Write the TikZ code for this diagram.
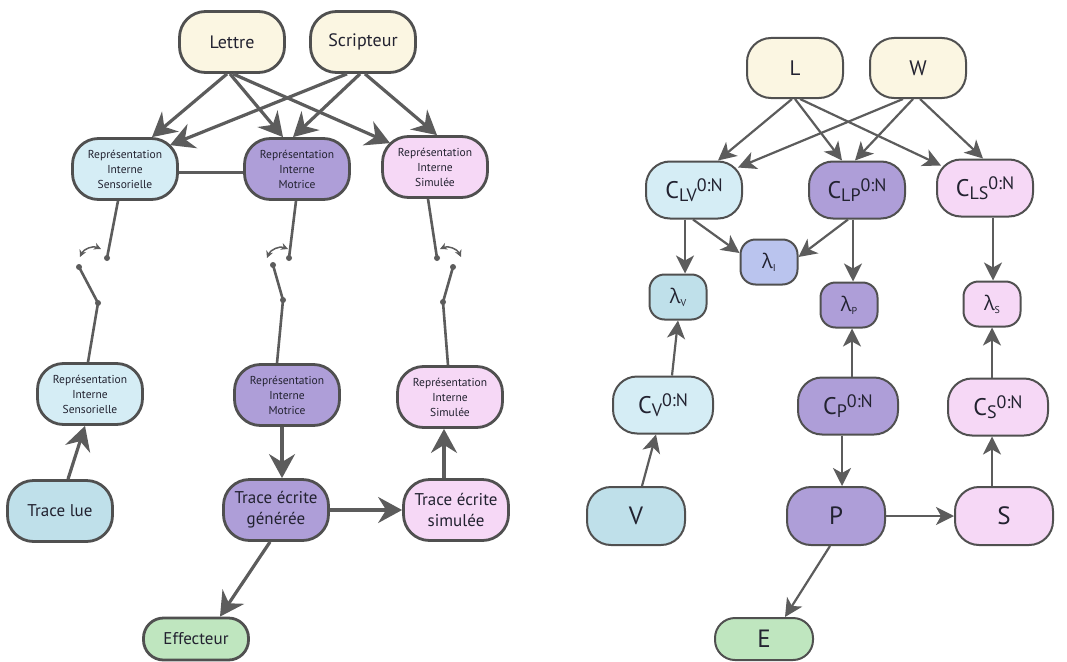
\documentclass[tikz,border=0pt]{standalone}
\usepackage{fontspec}
\setmainfont{PT Sans}
\newfontfamily\greekfont{Open Sans}
\usetikzlibrary{arrows.meta,calc}
\definecolor{yel}{HTML}{FBF6E2}
\definecolor{blu}{HTML}{D5EDF5}
\definecolor{blud}{HTML}{BFE0EA}
\definecolor{pur}{HTML}{AE9ED8}
\definecolor{pnk}{HTML}{F6D8F6}
\definecolor{grn}{HTML}{BFE6BF}
\definecolor{lav}{HTML}{BAC4EE}
\definecolor{bord}{HTML}{505050}
\definecolor{arr}{HTML}{5C5C5C}
\definecolor{txt}{HTML}{222230}
\newcommand{\cvar}[2]{C\raisebox{-0.12em}{\fontsize{18}{18}\selectfont #1}\raisebox{0.3em}{\fontsize{18}{18}\selectfont #2}}
\newcommand{\lamv}[1]{{\greekfont λ}\raisebox{-0.15em}{\fontsize{10}{10}\selectfont #1}}
\tikzset{
  box/.style={draw=bord, line width=2.8pt, rounded corners=26pt, align=center, inner sep=0pt, text=txt},
  lbox/.style={box, minimum width=105pt, minimum height=61pt},
  small/.style={font=\fontsize{11.5}{15}\selectfont},
  big/.style={font=\fontsize{18}{22}\selectfont},
  rbox/.style={draw=bord, line width=2pt, rounded corners=24pt, minimum width=96pt, minimum height=57pt, inner sep=0pt, text=txt, font=\fontsize{24}{26}\selectfont},
  lambox/.style={draw=bord, line width=2pt, rounded corners=15pt, minimum width=57pt, minimum height=45pt, inner sep=0pt, text=txt, font=\fontsize{20}{22}\selectfont},
  larr/.style={draw=arr, line width=3.2pt, -{Stealth[length=24pt,width=26pt,inset=8pt]}},
  lline/.style={draw=arr, line width=3pt},
  sw/.style={draw=arr, line width=2.6pt},
  swarc/.style={draw=arr, line width=1.5pt, {Stealth[length=7pt,width=7pt]}-{Stealth[length=7pt,width=7pt]}},
  rarr/.style={draw=arr, line width=2.2pt, -{Stealth[length=18pt,width=18pt,inset=5pt]}},
  dotm/.style={circle, fill=arr, inner sep=0pt, minimum size=6pt},
}
\begin{document}
\begin{tikzpicture}[x=1pt,y=-1pt]
\useasboundingbox (0,0) rectangle (1067,661);
% ---------- left ----------
\node[lbox, fill=yel, big] (lettre) at (232,42) {Lettre};
\node[lbox, fill=yel, big] (scrip) at (363,42) {Scripteur};
\node[lbox, fill=blu, small] (risA) at (125,169) {Représentation\\Interne\\Sensorielle};
\node[lbox, fill=pur, small] (rimA) at (297,169) {Représentation\\Interne\\Motrice};
\node[lbox, fill=pnk, small] (rsimA) at (435,167) {Représentation\\Interne\\Simulée};
\node[lbox, fill=blu, small] (risB) at (90,394) {Représentation\\Interne\\Sensorielle};
\node[lbox, fill=pur, small] (rimB) at (287,395) {Représentation\\Interne\\Motrice};
\node[lbox, fill=pnk, small] (rsimB) at (450,397) {Représentation\\Interne\\Simulée};
\node[lbox, fill=blud, font=\fontsize{17}{21}\selectfont] (tlue) at (60,511) {Trace lue};
\node[lbox, fill=pur, font=\fontsize{17}{21}\selectfont] (teg) at (276,510) {Trace écrite\\générée};
\node[lbox, fill=pnk, font=\fontsize{17}{21}\selectfont] (tes) at (456,510) {Trace écrite\\simulée};
\node[box, rounded corners=20pt, minimum width=105pt, minimum height=42pt, fill=grn, font=\fontsize{17}{21}\selectfont] (eff) at (196,639) {Effecteur};

\draw[larr] ([xshift=-5pt]lettre.south) -- ([xshift=27pt]risA.north);
\draw[larr] ([xshift=-2pt]lettre.south) -- ([xshift=-14pt]rimA.north);
\draw[larr] ([xshift=1pt]lettre.south) -- ([xshift=-45pt,yshift=-8pt]rsimA.north);
\draw[larr] ([xshift=-16pt]scrip.south) -- ([xshift=45pt,yshift=-8pt]risA.north);
\draw[larr] ([xshift=-3pt]scrip.south) -- ([xshift=-4pt]rimA.north);
\draw[larr] ([xshift=2pt]scrip.south) -- ([xshift=2pt]rsimA.north);
\draw[lline] ([yshift=-3pt]risA.east) -- ([yshift=-3pt]rimA.west);
\draw[larr] ([xshift=-5pt]rimB.south) -- ([xshift=6pt]teg.north);
\draw[larr] ([xshift=8pt]tlue.north) -- ([xshift=-5pt]risB.south);
\draw[larr] (teg.east) -- (tes.west);
\draw[larr] ([xshift=-12pt]tes.north) -- ([xshift=-6pt]rsimB.south);
\draw[larr] ([xshift=-6pt]teg.south) -- ([xshift=24pt]eff.north);

% switches
\coordinate (d1a) at (107,258); \coordinate (d1b) at (79,267); \coordinate (e1) at (98,303);
\coordinate (d2a) at (289,258); \coordinate (d2b) at (273,265); \coordinate (e2) at (283,300);
\coordinate (d3a) at (437,258); \coordinate (d3b) at (453,267); \coordinate (e3) at (443,302);
\draw[sw] ([xshift=-7pt]risA.south) -- (d1a);
\draw[sw] (d1b) -- (e1) -- ([xshift=-2pt]risB.north);
\draw[sw] ([xshift=-1pt]rimA.south) -- (d2a);
\draw[sw] (d2b) -- (e2) -- ([xshift=-10pt]rimB.north);
\draw[sw] ([xshift=-7pt]rsimA.south) -- (d3a);
\draw[sw] (d3b) -- (e3) -- ([xshift=-2pt]rsimB.north);
\foreach \d in {d1a,d1b,e1,d2a,d2b,e2,d3a,d3b,e3} \node[dotm] at (\d) {};
\coordinate (a1s) at (80,257); \coordinate (a1e) at (101,249);
\coordinate (a2s) at (267,258); \coordinate (a2e) at (288,249);
\coordinate (a3s) at (440,249); \coordinate (a3e) at (461,257);
\draw[swarc] (a1s) to[bend left=45] (a1e);
\draw[swarc] (a2s) to[bend left=45] (a2e);
\draw[swarc] (a3s) to[bend left=45] (a3e);

% ---------- right ----------
\node[rbox, fill=yel, font=\fontsize{21}{23}\selectfont, minimum height=60pt] (L) at (795,68) {L};
\node[rbox, fill=yel, font=\fontsize{21}{23}\selectfont, minimum height=60pt] (W) at (918,68) {W};
\node[rbox, fill=blu] (clv) at (694,190) {\cvar{LV}{0:N}};
\node[rbox, fill=pur] (clp) at (857,190) {\cvar{LP}{0:N}};
\node[rbox, fill=pnk] (cls) at (985,188) {\cvar{LS}{0:N}};
\node[lambox, fill=lav] (li) at (769,262) {\lamv{I}};
\node[lambox, fill=blud] (lv) at (678,297) {\lamv{V}};
\node[lambox, fill=pur] (lp) at (849,305) {\lamv{P}};
\node[lambox, fill=pnk] (ls) at (992,304) {\lamv{S}};
\node[rbox, fill=blu, minimum width=100pt] (cv) at (663,405) {\cvar{V}{0:N}};
\node[rbox, fill=pur, minimum width=100pt] (cp) at (848,406) {\cvar{P}{0:N}};
\node[rbox, fill=pnk, minimum width=100pt] (cs) at (998,407) {\cvar{S}{0:N}};
\node[rbox, fill=blud, minimum width=98pt, minimum height=58pt, font=\fontsize{25}{27}\selectfont] (V) at (636,516) {V};
\node[rbox, fill=pur, minimum width=98pt, minimum height=58pt, font=\fontsize{25}{27}\selectfont] (P) at (836,516) {P};
\node[rbox, fill=pnk, minimum width=98pt, minimum height=58pt, font=\fontsize{25}{27}\selectfont] (S) at (1004,516) {S};
\node[rbox, rounded corners=20pt, fill=grn, minimum width=98pt, minimum height=42pt, font=\fontsize{25}{27}\selectfont] (E) at (764,639) {E};

\draw[rarr] ([xshift=-3pt]L.south) -- ([xshift=24pt]clv.north);
\draw[rarr] (L.south) -- ([xshift=-15pt]clp.north);
\draw[rarr] ([xshift=5pt]L.south) -- ([xshift=-44pt,yshift=-7pt]cls.north);
\draw[rarr] ([xshift=-15pt]W.south) -- ([xshift=44pt,yshift=-7pt]clv.north);
\draw[rarr] ([xshift=-5pt]W.south) -- ([xshift=-2pt]clp.north);
\draw[rarr] ([xshift=2pt]W.south) -- ([xshift=-2pt]cls.north);
\draw[rarr] ([xshift=-9pt]clv.south) -- ([xshift=7pt]lv.north);
\draw[rarr] ([xshift=-1pt]clv.south) -- ([yshift=9pt]li.west);
\draw[rarr] ([xshift=-9pt]clp.south) -- ([yshift=5pt]li.east);
\draw[rarr] ([xshift=-4pt]clp.south) -- ([xshift=4pt]lp.north);
\draw[rarr] ([xshift=8pt]cls.south) -- ([xshift=1pt]ls.north);
\draw[rarr] ([xshift=9pt]cv.north) -- (lv.south);
\draw[rarr] ([xshift=6pt]V.north) -- ([xshift=-7pt]cv.south);
\draw[rarr] ([xshift=4pt]cp.north) -- ([xshift=3pt]lp.south);
\draw[rarr] ([xshift=-6pt]cp.south) -- ([xshift=6pt]P.north);
\draw[rarr] ([xshift=-6pt]cs.north) -- (ls.south);
\draw[rarr] ([xshift=-12pt]S.north) -- ([xshift=-6pt]cs.south);
\draw[rarr] (P.east) -- (S.west);
\draw[rarr] ([xshift=-6pt]P.south) -- ([xshift=21pt]E.north);
\end{tikzpicture}
\end{document}
